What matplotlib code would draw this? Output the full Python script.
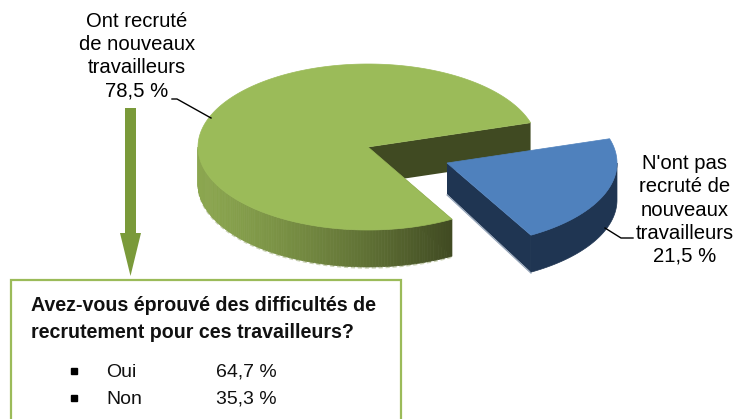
import numpy as np
import matplotlib
matplotlib.use('Agg')
import matplotlib.pyplot as plt
from matplotlib.patches import Polygon, Rectangle
from matplotlib.colors import to_rgb

plt.rcParams['font.family'] = ['Liberation Sans', 'DejaVu Sans']

# Data
shares = [78.5, 21.5]
share_labels = ["Ont recruté\nde nouveaux\ntravailleurs\n78,5 %",
                "N'ont pas\nrecruté de\nnouveaux\ntravailleurs\n21,5 %"]
box_title = "Avez-vous éprouvé des difficultés de\nrecrutement pour ces travailleurs?"
answers = ["Oui", "Non"]
answer_values = ["64,7 %", "35,3 %"]

# pie geometry, in pixels
RX, RY, DEPTH = 170, 83, 37
GREEN_C = (368, 147)
BLUE_C = (447, 163)
START = 17  # degrees, where the green slice starts

GREEN, GREEN_DARK = '#9BBB59', '#404A22'
BLUE, BLUE_DARK = '#4F81BD', '#1F3552'


def arc(c, a0, a1, n=200, dy=0):
    t = np.radians(np.linspace(a0, a1, n))
    return np.column_stack([c[0] + RX * np.cos(t), c[1] - RY * np.sin(t) + dy])


def mix(a, b, f):
    a, b = np.array(to_rgb(a)), np.array(to_rgb(b))
    return a + (b - a) * f


fig = plt.figure(figsize=(7.47, 4.19), dpi=100)
ax = fig.add_axes([0, 0, 1, 1])
ax.set_xlim(0, 747)
ax.set_ylim(419, 0)
ax.axis('off')

span_green = shares[0] / sum(shares) * 360
span_blue = shares[1] / sum(shares) * 360
g0, g1 = START, START + span_green
b0, b1 = START - span_blue, START

# green inner wall
p_start = arc(GREEN_C, g0, g0, 1)[0]
p_end = arc(GREEN_C, g1, g1, 1)[0]
ax.add_patch(Polygon([GREEN_C, p_start, p_start + [0, DEPTH], (GREEN_C[0], GREEN_C[1] + DEPTH)],
                     fc=GREEN_DARK, ec='none', zorder=1))
ax.add_patch(Polygon([GREEN_C, p_end, p_end + [0, DEPTH], (GREEN_C[0], GREEN_C[1] + DEPTH)],
                     fc=GREEN_DARK, ec='none', zorder=1))

# green outer wall, shaded left to right
pts = arc(GREEN_C, 180, g1, 120)
for i in range(len(pts) - 1):
    f = (pts[i][0] - pts[0][0]) / (pts[-1][0] - pts[0][0])
    col = mix('#8BA64F', GREEN_DARK, f ** 1.3)
    ax.add_patch(Polygon([pts[i], pts[i + 1], pts[i + 1] + [0, DEPTH], pts[i] + [0, DEPTH]],
                         fc=col, ec=col, lw=0.5, zorder=2))
# soft pale edge under the wall
ax.plot(pts[:, 0], pts[:, 1] + DEPTH + 1, color='#C9D1B4', lw=1, ls=(0, (3, 2)), zorder=1.5)

# green top
top = np.vstack([[GREEN_C], arc(GREEN_C, g0, g1, 400)])
ax.add_patch(Polygon(top, fc=GREEN, ec=GREEN, lw=0.5, zorder=3))

# blue walls and top
pb0 = arc(BLUE_C, b0, b0, 1)[0]
ax.add_patch(Polygon([BLUE_C, pb0, pb0 + [0, DEPTH], (BLUE_C[0], BLUE_C[1] + DEPTH - 6)],
                     fc=BLUE_DARK, ec='none', zorder=4))
ax.plot([BLUE_C[0], pb0[0]], [BLUE_C[1] + DEPTH - 5, pb0[1] + DEPTH + 1],
        color='#8E9FB5', lw=0.8, zorder=3.5)
side = arc(BLUE_C, b0, 0, 60)
ax.add_patch(Polygon(np.vstack([side, side[::-1] + [0, DEPTH]]),
                     fc=BLUE_DARK, ec=BLUE_DARK, lw=0.5, zorder=4))
blue_top = np.vstack([[BLUE_C], arc(BLUE_C, b0, b1, 120)])
ax.add_patch(Polygon(blue_top, fc=BLUE, ec=BLUE, lw=0.5, zorder=5))

# leader lines
ax.plot([172, 177, 211], [99, 99, 118], color='black', lw=1, zorder=6)
ax.plot([605, 621, 633], [228, 238, 238], color='black', lw=1, zorder=6)

# labels
ax.text(137, 56, share_labels[0], ha='center', va='center', fontsize=14.6,
        linespacing=1.28, color='black', zorder=7)
ax.text(685, 210, share_labels[1], ha='center', va='center', fontsize=14.6,
        linespacing=1.28, color='black', zorder=7)

# arrow down to the box
ax.add_patch(Polygon([(125, 108), (136, 108), (136, 233), (141, 233),
                      (130.5, 276), (120, 233), (125, 233)],
                     fc='#7A9A3A', ec='none', zorder=2))

# box
ax.add_patch(Rectangle((10.5, 279.5), 390, 160, fc='white', ec=GREEN, lw=1.6, zorder=3))
ax.text(31, 319, box_title, ha='left', va='center', fontsize=14.1, fontweight='bold',
        linespacing=1.5, color='#111111', zorder=7)

rows_y = [371, 398]
for y, ans, val in zip(rows_y, answers, answer_values):
    ax.plot([74], [y], marker='s', ms=5, color='black', ls='none', zorder=7)
    ax.text(106, y + 1, ans, ha='left', va='center', fontsize=14, color='#111111', zorder=7)
    ax.text(216, y + 1, val, ha='left', va='center', fontsize=14, color='#111111', zorder=7)

fig.savefig('out.png', dpi=100)
